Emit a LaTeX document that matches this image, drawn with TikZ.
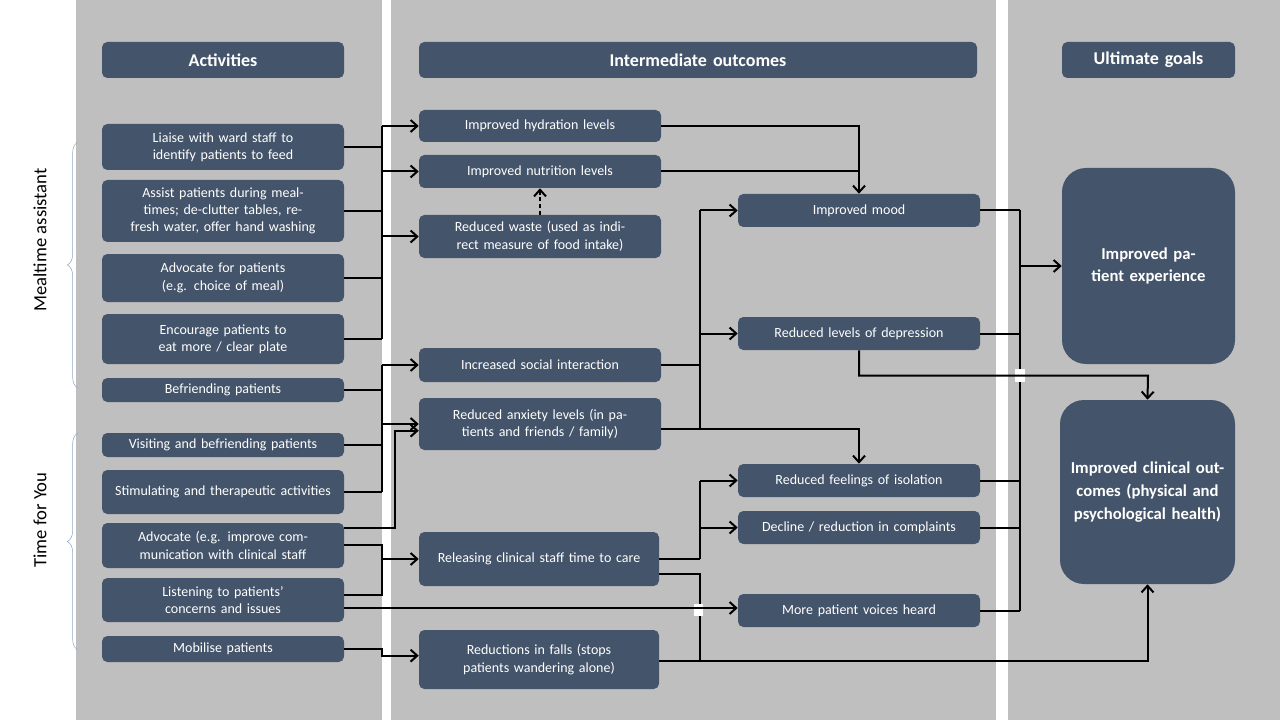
\documentclass[tikz,border=0pt]{standalone}
\usepackage{fontspec}
\setmainfont{Carlito}
\usetikzlibrary{arrows.meta,decorations.pathreplacing}
\definecolor{bg}{HTML}{BFBFBF}
\definecolor{box}{HTML}{44546A}
\definecolor{brc}{HTML}{8EA9C8}
\tikzset{
	bx/.style={draw=none, fill=box, rounded corners=4pt, text=white, align=center, inner sep=1pt, font=\fontsize{10.5}{13}\selectfont},
	hd/.style={bx, font=\bfseries\fontsize{13.5}{16}\selectfont},
	ug/.style={bx, rounded corners=18pt, font=\bfseries\fontsize{12.5}{17}\selectfont},
	ln/.style={line width=1.5pt},
	arr/.style={ln, -{Straight Barb[length=5pt,width=9pt,line width=1.5pt]}},
}
% box from (x1,y1) to (x2,y2) in pixels
\newcommand\bx[7][bx]{\node[#1, minimum width=(#5-#3)*0.75pt, minimum height=(#6-#4)*0.75pt, text width=(#5-#3)*0.75pt-10pt] (#2) at ({(#3+#5)/2},{(#4+#6)/2}) {#7};}
\begin{document}
\begin{tikzpicture}[x=0.75pt, y=-0.75pt]
	\useasboundingbox (0,0) rectangle (1280,720);
	\fill[white] (0,0) rectangle (1280,720);
	%columns
	\fill[bg] (76,0) rectangle (382,720);
	\fill[bg] (391,0) rectangle (996,720);
	\fill[bg] (1008,0) rectangle (1280,720);
	
	%headers
	\bx[hd]{H1}{102}{42}{344}{78}{Activities}
	\bx[hd]{H2}{419}{42}{977}{78}{Intermediate outcomes}
	\bx[hd]{H3}{1062}{42}{1235}{78}{Ultimate goals}
	
	%activities
	\bx{A1}{102}{124}{344}{170}{Liaise with ward staff to identify patients to feed}
	\bx{A2}{102}{180}{344}{242}{Assist patients during mealtimes; de-clutter tables, refresh water, offer hand washing}
	\bx{A3}{102}{254}{344}{302}{Advocate for patients (e.g. choice of meal)}
	\bx{A4}{102}{314}{344}{364}{Encourage patients to eat more / clear plate}
	\bx{A5}{102}{378}{344}{402}{Befriending patients}
	\bx{A6}{102}{433}{344}{457}{Visiting and befriending patients}
	\bx{A7}{102}{470}{344}{514}{Stimulating and therapeutic activities}
	\bx{A8}{102}{523}{344}{568}{Advocate (e.g. improve communication with clinical staff}
	\bx{A9}{102}{578}{344}{622}{Listening to patients’ concerns and issues}
	\bx{A10}{102}{636}{344}{662}{Mobilise patients}
	
	%intermediate outcomes
	\bx{B1}{419}{110}{661}{142}{Improved hydration levels}
	\bx{B2}{419}{155}{661}{188}{Improved nutrition levels}
	\bx{B3}{419}{215}{661}{258}{Reduced waste (used as indirect measure of food intake)}
	\bx{B4}{419}{348}{661}{382}{Increased social interaction}
	\bx{B5}{419}{398}{661}{450}{Reduced anxiety levels (in patients and friends / family)}
	\bx{B6}{419}{532}{659}{586}{Releasing clinical staff time to care}
	\bx{B7}{419}{630}{659}{689}{Reductions in falls (stops patients wandering alone)}
	\bx{C1}{738}{194}{980}{227}{Improved mood}
	\bx{C2}{738}{317}{980}{350}{Reduced levels of depression}
	\bx{C3}{738}{464}{980}{497}{Reduced feelings of isolation}
	\bx{C4}{738}{511}{980}{544}{Decline / reduction in complaints}
	\bx{C5}{738}{594}{980}{627}{More patient voices heard}
	
	%ultimate goals
	\bx[ug]{D1}{1062}{168}{1235}{364}{Improved patient experience}
	\bx[ug]{D2}{1060}{400}{1235}{584}{Improved clinical outcomes (physical and psychological health)}
	
	%side labels
	\draw[brc, decorate, decoration={brace, amplitude=8pt}] (78,388) -- (78,142);
	\node[rotate=90, font=\fontsize{14}{16}\selectfont] (M) at (40,240) {Mealtime assistant};
	\draw[brc, decorate, decoration={brace, amplitude=8pt}] (78,650) -- (78,433);
	\node[rotate=90, font=\fontsize{14}{16}\selectfont] (T) at (40,520) {Time for You};
	
	\coordinate (bus1) at (382,0);
	\coordinate (bus2) at (395,0);
	\coordinate (bus3) at (700,0);
	\coordinate (bus4) at (858,0);
	\coordinate (bus5) at (1020,0);
	\coordinate (bus6) at (1148,0);
	
	%mealtime assistant links
	\foreach \a in {A1,A2,A3,A4}
		\draw[ln] (\a.east) -- (\a.east -| bus1);
	\draw[ln] (B1.west -| bus1) -- (A4.east -| bus1);
	\foreach \b in {B1,B2,B3}
		\draw[arr] (\b.west -| bus1) -- (\b.west);
	
	%time for you links
	\foreach \a in {A5,A6,A7}
		\draw[ln] (\a.east) -- (\a.east -| bus1);
	\draw[ln] (B4.west -| bus1) -- (A7.east -| bus1);
	\draw[arr] (B4.west -| bus1) -- (B4.west);
	\draw[arr] (B5.west -| bus1) -- (B5.west);
	\draw[arr] ([yshift=-4pt]A8.north east) -| ([yshift=-5pt]B5.west -| bus2) -- ([yshift=-5pt]B5.west);
	\draw[ln] ([yshift=-17pt]A8.north east) -| ([yshift=4pt]A9.east -| bus1) -- ([yshift=4pt]A9.east);
	\draw[arr] (B6.west -| bus1) -- (B6.west);
	\draw[arr] (A10.east) -| ([yshift=-5pt]A10.east -| bus1) -- ([yshift=-5pt]A10.east -| B7.west);
	
	%second column links
	\draw[arr] (B1.east) -| (C1.north);
	\draw[ln] (B2.east) -- (B2.east -| bus4);
	\draw[arr, densely dashed, line width=1pt] (B3.north) -- (B2.south);
	\draw[ln] (B4.east) -- (B4.east -| bus3);
	\draw[ln] ([yshift=-4pt]B5.east) -- ([yshift=-4pt]B5.east -| bus3);
	\draw[ln] ([yshift=-4pt]B5.east -| bus3) -- (C1.west -| bus3);
	\draw[arr] (C1.west -| bus3) -- (C1.west);
	\draw[arr] (C2.west -| bus3) -- (C2.west);
	\draw[arr] ([yshift=-4pt]B5.east -| bus3) -| (C3.north);
	\draw[ln] (B6.east) -- (B6.east -| bus3);
	\draw[ln] (B6.east -| bus3) -- (C3.west -| bus3);
	\draw[arr] (C3.west -| bus3) -- (C3.west);
	\draw[arr] (C4.west -| bus3) -- (C4.west);
	\draw[ln] ([yshift=-11pt]B6.east) -| ([yshift=-1pt]B7.east -| bus3);
	\draw[arr] ([yshift=-1pt]B7.east) -| (D2.south);
	\fill[white] (694,604) rectangle (703,616);
	\draw[arr] ([yshift=-6pt]A9.east) -- ([yshift=-6pt]A9.east -| C5.west);
	
	%third column links
	\foreach \c in {C1,C2,C3,C4,C5}
		\draw[ln] (\c.east) -- (\c.east -| bus5);
	\draw[ln] (C1.east -| bus5) -- (C5.east -| bus5);
	\draw[arr] (D1.west -| bus5) -- (D1.west);
	\fill[white] (1015,369) rectangle (1025,382);
	\draw[arr] (C2.south) |- ([yshift=-19pt]C2.south -| bus6) -- (D2.north);
\end{tikzpicture}
\end{document}
